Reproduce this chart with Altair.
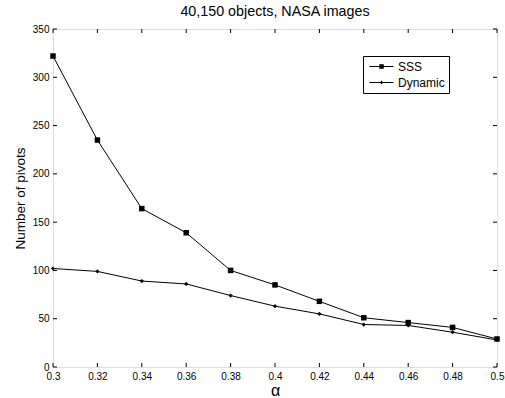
import altair as alt
import pandas as pd

alpha = [0.30, 0.32, 0.34, 0.36, 0.38, 0.40, 0.42, 0.44, 0.46, 0.48, 0.50]
sss = [322, 235, 164, 139, 100, 85, 68, 51, 46, 41, 29]
dynamic = [102, 99, 89, 86, 74, 63, 55, 44, 43, 36, 28]
series_names = ["SSS", "Dynamic"]
x_ticks = [0.30, 0.32, 0.34, 0.36, 0.38, 0.40, 0.42, 0.44, 0.46, 0.48, 0.50]
y_ticks = [0, 50, 100, 150, 200, 250, 300, 350]

W, H = 444, 338
FONT = "Liberation Sans"

df = pd.DataFrame({
    "alpha": alpha * 2,
    "value": sss + dynamic,
    "series": ["SSS"] * len(alpha) + ["Dynamic"] * len(alpha),
})

xs = alt.Scale(domain=[0.3, 0.5], nice=False, zero=False)
ys = alt.Scale(domain=[0, 350], nice=False)

xax = alt.Axis(values=x_ticks, title="α", labelExpr="format(datum.value, '.2~f')",
               tickSize=0, domain=False, grid=False, labelPadding=4, labelFlush=False,
               labelFontSize=10, titleFontSize=16, titleFont=FONT, labelFont=FONT,
               titleFontWeight="normal", labelColor="black", titleColor="black", titlePadding=1)
yax = alt.Axis(values=y_ticks, title="Number of pivots", tickSize=0, domain=False, grid=False,
               labelPadding=4, labelFlush=False, labelFontSize=10, titleFontSize=13.5,
               titleFont=FONT, labelFont=FONT,
               titleFontWeight="normal", labelColor="black", titleColor="black", titlePadding=5)

# legend glyphs: a thin filled bar (the line) plus the marker
sss_path = "M-2,-0.09L2,-0.09L2,0.09L-2,0.09Z M-0.38,-0.38L0.38,-0.38L0.38,0.38L-0.38,0.38Z"
dyn_path = "M-2,-0.09L2,-0.09L2,0.09L-2,0.09Z M0,-0.32L0.25,0L0,0.32L-0.25,0Z"

base = alt.Chart(df)

lines = base.mark_line(strokeWidth=1, color="black").encode(
    x=alt.X("alpha:Q", scale=xs, axis=xax),
    y=alt.Y("value:Q", scale=ys, axis=yax),
    detail="series:N",
)

leg = base.transform_filter("false").mark_point(
    filled=True, fill="black", stroke="black", strokeWidth=1, opacity=1).encode(
    x=alt.X("alpha:Q", scale=xs),
    y=alt.Y("value:Q", scale=ys),
    shape=alt.Shape("series:N", scale=alt.Scale(domain=series_names, range=[sss_path, dyn_path]),
                    legend=alt.Legend(
                        title=None, orient="none", legendX=310, legendY=27,
                        symbolSize=144, symbolOpacity=1,
                        symbolFillColor="black", symbolStrokeColor="black", symbolStrokeWidth=1,
                        labelFont=FONT, labelFontSize=12, labelColor="black",
                        strokeColor="black", fillColor="white", padding=4,
                        rowPadding=3, labelOffset=10, symbolOffset=8,
                    )),
)

pts_sss = base.transform_filter(alt.datum.series == "SSS").mark_point(
    filled=True, color="black", opacity=1, shape="square", size=30).encode(
    x=alt.X("alpha:Q", scale=xs), y=alt.Y("value:Q", scale=ys))
pts_dyn = base.transform_filter(alt.datum.series == "Dynamic").mark_point(
    filled=True, color="black", opacity=1, shape="diamond", size=18).encode(
    x=alt.X("alpha:Q", scale=xs), y=alt.Y("value:Q", scale=ys))

xt_df = pd.DataFrame({"t": x_ticks})
yt_df = pd.DataFrame({"t": y_ticks})
xtb = alt.Chart(xt_df).mark_rule(color="black", strokeWidth=1).encode(
    x=alt.X("t:Q", scale=xs), y=alt.value(H), y2=alt.value(H - 4))
xtt = alt.Chart(xt_df).mark_rule(color="black", strokeWidth=1).encode(
    x=alt.X("t:Q", scale=xs), y=alt.value(0), y2=alt.value(4))
ytl = alt.Chart(yt_df).mark_rule(color="black", strokeWidth=1).encode(
    y=alt.Y("t:Q", scale=ys), x=alt.value(0), x2=alt.value(4))
ytr = alt.Chart(yt_df).mark_rule(color="black", strokeWidth=1).encode(
    y=alt.Y("t:Q", scale=ys), x=alt.value(W), x2=alt.value(W - 4))

chart = alt.layer(xtb, xtt, ytl, ytr, lines, leg, pts_sss, pts_dyn).properties(
    width=W, height=H,
    title=alt.Title("40,150 objects, NASA images", font=FONT, fontSize=14.3, fontWeight="normal",
                    color="black", offset=5),
    autosize=alt.AutoSizeParams(type="none"),
    padding={"left": 53, "top": 29, "right": 8, "bottom": 31},
).configure_view(stroke="black", strokeWidth=1.2).configure(background="white")

chart.save("out.html", embed_options={"renderer": "svg", "actions": False})
